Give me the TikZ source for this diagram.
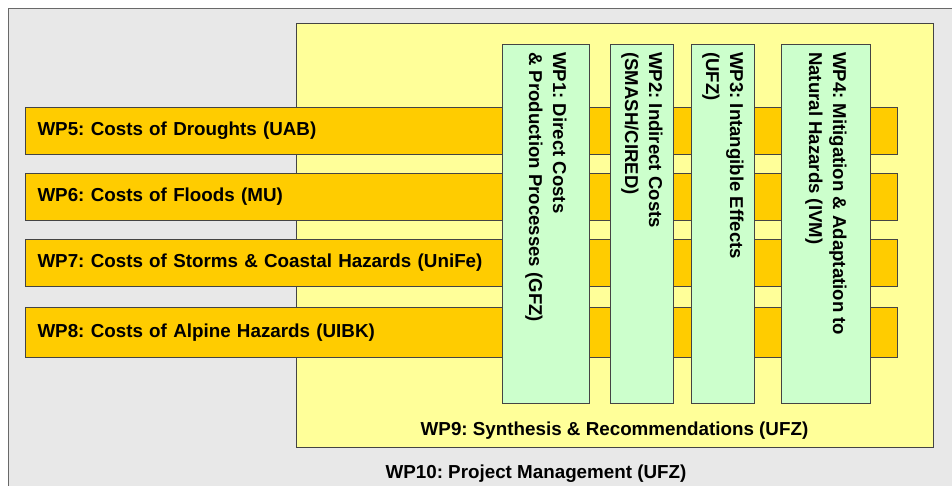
\documentclass[tikz,border=0pt]{standalone}
\usepackage{fontspec}
\setmainfont{Liberation Sans}
\frenchspacing
\definecolor{pmgray}{HTML}{E8E8E8}
\definecolor{synyellow}{HTML}{FFFF99}
\definecolor{hazorange}{HTML}{FFCC00}
\definecolor{costgreen}{HTML}{CCFFCC}
\definecolor{edgegray}{HTML}{444444}
\tikzset{
  box/.style={draw=edgegray, line width=1pt, rectangle, inner sep=0pt, anchor=north west},
  hazbar/.style={box, fill=hazorange, minimum width=872pt, minimum height=47pt,
    text width=848pt, inner xsep=12pt, align=left,
    font=\bfseries\fontsize{18.8}{22}\selectfont},
  costcol/.style={box, fill=costgreen, minimum height=359pt},
  vlabel/.style={rotate=-90, anchor=west, inner sep=0pt, align=left,
    font=\bfseries\fontsize{18.6}{24}\selectfont},
  caption/.style={inner sep=0pt, font=\bfseries\fontsize{18.8}{22}\selectfont},
}
\begin{document}
\begin{tikzpicture}[x=1pt, y=-1pt]
\useasboundingbox (0,0) rectangle (952,485);
\fill[white] (0,0) rectangle (952,485);
% project management frame
\node[box, draw=edgegray!80, fill=pmgray, minimum width=960pt, minimum height=490pt] (wp10) at (8,8) {};
% synthesis frame
\node[box, fill=synyellow, minimum width=637pt, minimum height=424pt] (wp9) at (296,23) {};
% hazard work packages
\node[hazbar] (wp5) at (25,107) {WP5: Costs of Droughts (UAB)};
\node[hazbar] (wp6) at (25,173) {WP6: Costs of Floods (MU)};
\node[hazbar] (wp7) at (25,239) {WP7: Costs of Storms \& Coastal Hazards (UniFe)};
\node[hazbar, minimum height=50pt] (wp8) at (25,307) {WP8: Costs of Alpine Hazards (UIBK)};
% cost work packages
\node[costcol, minimum width=87pt] (wp1) at (502,44) {};
\node[costcol, minimum width=63pt] (wp2) at (610,44) {};
\node[costcol, minimum width=63pt] (wp3) at (691,44) {};
\node[costcol, minimum width=89pt] (wp4) at (781,44) {};
\node[vlabel] (t1) at ([yshift=-8pt]wp1.north) {WP1: Direct Costs\\\& Production Processes (GFZ)};
\node[vlabel] (t2) at ([yshift=-8pt]wp2.north) {WP2: Indirect Costs\\(SMASH/CIRED)};
\node[vlabel] (t3) at ([yshift=-8pt]wp3.north) {WP3: Intangible Effects\\(UFZ)};
\node[vlabel] (t4) at ([yshift=-8pt]wp4.north) {WP4: Mitigation \& Adaptation to\\Natural Hazards (IVM)};
% captions
\node[caption] (c9) at (614.5,431) {WP9: Synthesis \& Recommendations (UFZ)};
\node[caption] (c10) at (536,474) {WP10: Project Management (UFZ)};
\end{tikzpicture}
\end{document}
